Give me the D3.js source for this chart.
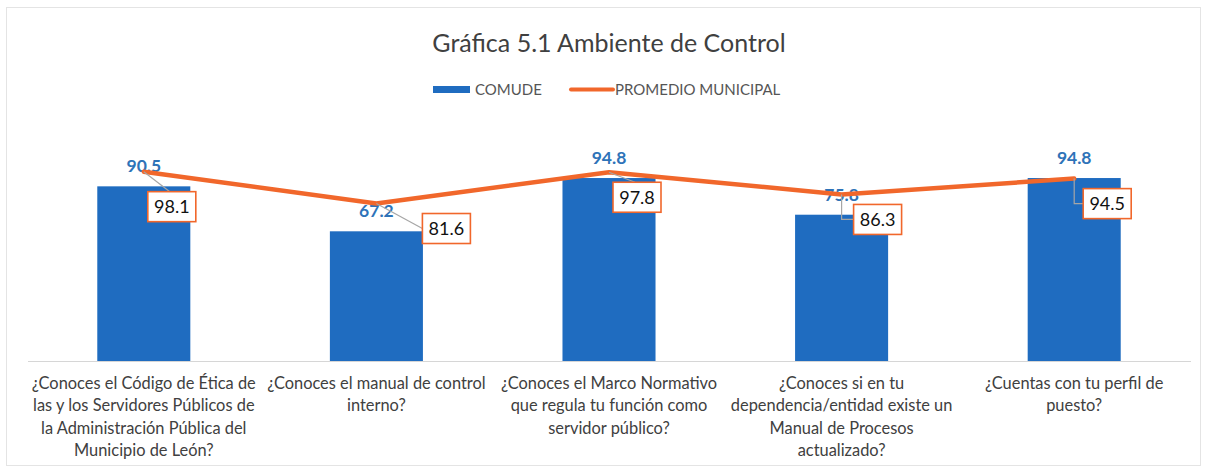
<!DOCTYPE html>
<html>
<head>
<meta charset="utf-8">
<script src="https://cdn.jsdelivr.net/npm/d3@7"></script>
<style>
  html, body { margin: 0; padding: 0; background: #fff; }
  svg { display: block; }
</style>
</head>
<body>
<svg id="chart" width="1208" height="472"></svg>
<script>
// ---- data ----
const categories = [
  "¿Conoces el Código de Ética de las y los Servidores Públicos de la Administración Pública del Municipio de León?",
  "¿Conoces el manual de control interno?",
  "¿Conoces el Marco Normativo que regula tu función como servidor público?",
  "¿Conoces si en tu dependencia/entidad existe un Manual de Procesos actualizado?",
  "¿Cuentas con tu perfil de puesto?"
];
const categoryLines = [
  ["¿Conoces el Código de Ética de", "las y los Servidores Públicos de", "la Administración Pública del", "Municipio de León?"],
  ["¿Conoces el manual de control", "interno?"],
  ["¿Conoces el Marco Normativo", "que regula tu función como", "servidor público?"],
  ["¿Conoces si en tu", "dependencia/entidad existe un", "Manual de Procesos", "actualizado?"],
  ["¿Cuentas con tu perfil de", "puesto?"]
];
const comude = [90.5, 67.2, 94.8, 75.8, 94.8];
const promedio = [98.1, 81.6, 97.8, 86.3, 94.5];
const seriesNames = ["COMUDE", "PROMEDIO MUNICIPAL"];
const title = "Gráfica 5.1 Ambiente de Control";

// label offsets (layout) for the line's data-label boxes, relative to each point
const boxOffsets = [[28, 35], [70, 25], [28, 25], [36, 25], [33, 25]];

// ---- styles ----
const BLUE = "#1f6cc0";
const BLUE_TXT = "#2e73b8";
const ORANGE = "#f1672b";
const FONT = "Lato, 'Open Sans', 'Liberation Sans', sans-serif";

const svg = d3.select("#chart");

// faint outer frame
svg.append("rect").attr("x", 6.5).attr("y", 7.5).attr("width", 1194).attr("height", 458)
  .attr("fill", "#fff").attr("stroke", "#e4e4e4").attr("stroke-width", 1);

// scales
const x = d3.scaleBand().domain(categories).range([27.5, 1190.5]).paddingInner(0.6).paddingOuter(0.3);
const y = d3.scaleLinear().domain([0, 100]).range([361, 168]);

// title
svg.append("text").attr("x", 609).attr("y", 52).attr("text-anchor", "middle")
  .attr("font-family", FONT).attr("font-size", 25).attr("fill", "#404040").text(title);

// legend
const lg = svg.append("g").attr("font-family", FONT).attr("font-size", 15).attr("fill", "#555");
lg.append("rect").attr("x", 433).attr("y", 86).attr("width", 37).attr("height", 7).attr("fill", BLUE);
lg.append("text").attr("x", 475).attr("y", 95).text(seriesNames[0]);
lg.append("line").attr("x1", 571).attr("x2", 613).attr("y1", 89.5).attr("y2", 89.5)
  .attr("stroke", ORANGE).attr("stroke-width", 4).attr("stroke-linecap", "round");
lg.append("text").attr("x", 615).attr("y", 95).text(seriesNames[1]);

// baseline axis
const xAxis = d3.axisBottom(x).tickSize(0).tickFormat("");
const axG = svg.append("g").attr("transform", `translate(0,${y(0)})`).call(xAxis);
axG.select(".domain").attr("stroke", "#d6d6d6").attr("stroke-width", 1);

// bars
svg.append("g").selectAll("rect").data(comude).join("rect")
  .attr("x", (d, i) => x(categories[i]))
  .attr("y", d => y(d))
  .attr("width", x.bandwidth())
  .attr("height", d => y(0) - y(d))
  .attr("fill", BLUE);

// category labels
const cx = i => x(categories[i]) + x.bandwidth() / 2;
const catG = svg.append("g").attr("font-family", FONT).attr("font-size", 16.4).attr("fill", "#404040")
  .attr("text-anchor", "middle");
categoryLines.forEach((lines, i) => {
  const t = catG.append("text").attr("x", cx(i)).attr("y", 389);
  lines.forEach((ln, j) => {
    t.append("tspan").attr("x", cx(i)).attr("dy", j === 0 ? 0 : 22.3).text(ln);
  });
});

// bar value labels
svg.append("g").selectAll("text").data(comude).join("text")
  .attr("x", (d, i) => cx(i))
  .attr("y", d => y(d) - 20)
  .attr("dy", "0.35em")
  .attr("text-anchor", "middle")
  .attr("font-family", FONT).attr("font-size", 17.5).attr("font-weight", "bold")
  .attr("fill", BLUE_TXT)
  .text(d => d.toFixed(1));

// line
const line = d3.line().x((d, i) => cx(i)).y(d => y(d));
svg.append("path").datum(promedio).attr("d", line)
  .attr("fill", "none").attr("stroke", ORANGE).attr("stroke-width", 4.5)
  .attr("stroke-linejoin", "round").attr("stroke-linecap", "round");

// line data labels with leader lines
const BW = 48, BH = 30;
const lblG = svg.append("g");
promedio.forEach((v, i) => {
  const px = cx(i), py = y(v);
  const bx = px + boxOffsets[i][0], by = py + boxOffsets[i][1];
  const left = bx - BW / 2, top = by - BH / 2;
  let path;
  if (left - px > 20) {
    path = `M${px},${py}L${left},${by}`;
  } else if (left - px > 8) {
    path = `M${px},${py}V${by}H${left}`;
  } else {
    path = `M${px},${py}L${bx - 2},${top}`;
  }
  lblG.append("path").attr("d", path).attr("fill", "none").attr("stroke", "#a6a6a6").attr("stroke-width", 1.2);
  lblG.append("rect").attr("x", left).attr("y", top).attr("width", BW).attr("height", BH)
    .attr("fill", "#fff").attr("stroke", ORANGE).attr("stroke-width", 1.6);
  lblG.append("text").attr("x", bx).attr("y", by).attr("dy", "0.36em").attr("text-anchor", "middle")
    .attr("font-family", FONT).attr("font-size", 18).attr("fill", "#111").text(v.toFixed(1));
});
</script>
</body>
</html>
